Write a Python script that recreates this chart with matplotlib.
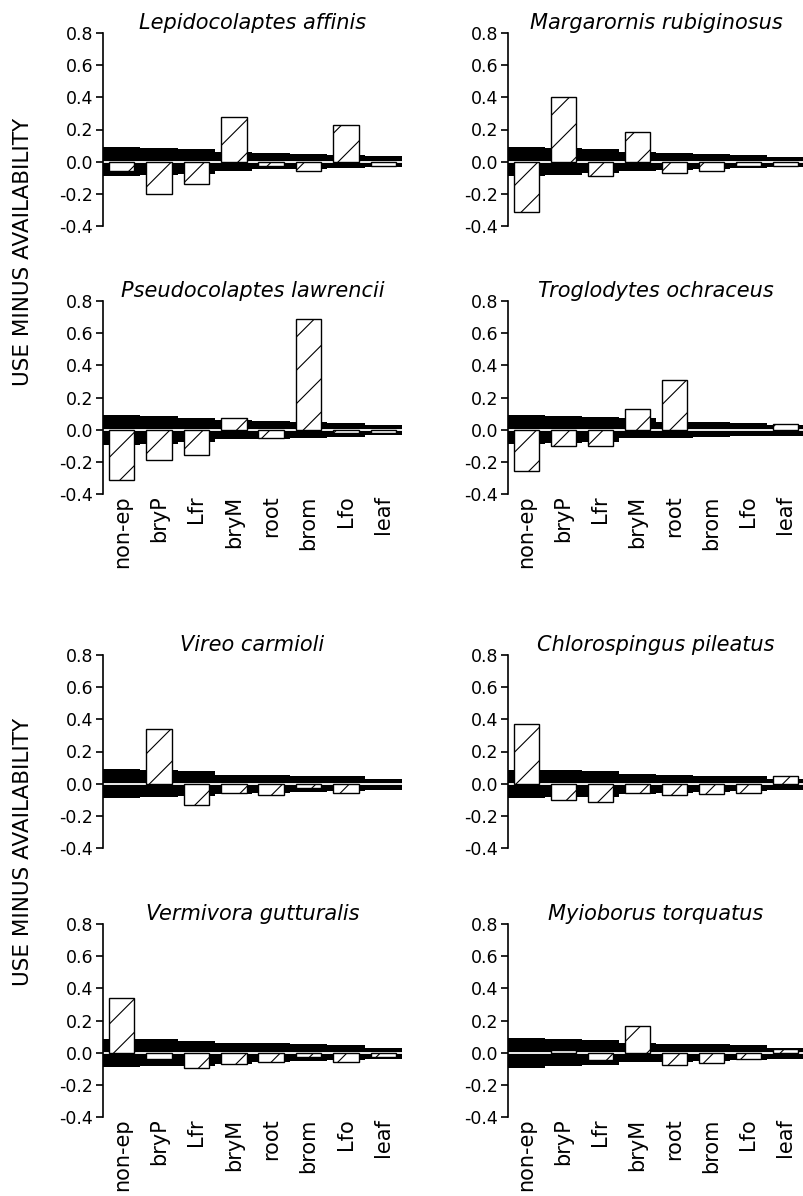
#!/usr/bin/env python3
import matplotlib

matplotlib.use("Agg")
import matplotlib.pyplot as plt
import numpy as np

categories = ["non-ep", "bryP", "Lfr", "bryM", "root", "brom", "Lfo", "leaf"]
yticks = [-0.4, -0.2, 0.0, 0.2, 0.4, 0.6, 0.8]

# use minus availability (hatched bars) and the black upper / lower bands
lepi_use = [-0.06, -0.20, -0.14, 0.28, -0.025, -0.06, 0.23, -0.025]
lepi_hi = [0.090, 0.083, 0.077, 0.060, 0.052, 0.046, 0.040, 0.033]
lepi_lo = [-0.090, -0.083, -0.075, -0.058, -0.048, -0.046, -0.040, -0.033]

marg_use = [-0.31, 0.40, -0.09, 0.185, -0.07, -0.06, -0.03, -0.025]
marg_hi = [0.094, 0.085, 0.077, 0.060, 0.052, 0.048, 0.042, 0.031]
marg_lo = [-0.090, -0.080, -0.073, -0.055, -0.050, -0.045, -0.040, -0.032]

pseu_use = [-0.31, -0.19, -0.16, 0.07, -0.05, 0.69, -0.02, -0.02]
pseu_hi = [0.093, 0.083, 0.072, 0.060, 0.052, 0.045, 0.041, 0.031]
pseu_lo = [-0.093, -0.089, -0.079, -0.058, -0.055, -0.052, -0.048, -0.035]

trog_use = [-0.26, -0.10, -0.10, 0.13, 0.31, 0.0, 0.0, 0.035]
trog_hi = [0.093, 0.082, 0.078, 0.070, 0.050, 0.045, 0.041, 0.031]
trog_lo = [-0.089, -0.082, -0.078, -0.052, -0.050, -0.045, -0.041, -0.037]

vire_use = [0.0, 0.34, -0.135, -0.055, -0.07, -0.03, -0.055, 0.0]
vire_hi = [0.093, 0.085, 0.076, 0.056, 0.052, 0.050, 0.045, 0.031]
vire_lo = [-0.089, -0.082, -0.075, -0.062, -0.055, -0.050, -0.045, -0.037]

chlo_use = [0.37, -0.10, -0.113, -0.055, -0.072, -0.066, -0.055, 0.047]
chlo_hi = [0.088, 0.082, 0.076, 0.062, 0.051, 0.047, 0.045, 0.031]
chlo_lo = [-0.092, -0.085, -0.080, -0.062, -0.055, -0.050, -0.045, -0.040]

verm_use = [0.34, -0.04, -0.093, -0.073, -0.058, -0.03, -0.058, -0.025]
verm_hi = [0.087, 0.082, 0.075, 0.062, 0.058, 0.052, 0.048, 0.031]
verm_lo = [-0.089, -0.083, -0.080, -0.070, -0.058, -0.052, -0.048, -0.037]

myio_use = [0.0, 0.014, -0.047, 0.163, -0.074, -0.064, -0.037, 0.025]
myio_hi = [0.091, 0.082, 0.076, 0.062, 0.056, 0.052, 0.045, 0.031]
myio_lo = [-0.093, -0.085, -0.078, -0.058, -0.055, -0.050, -0.045, -0.037]

species = [
    "Lepidocolaptes affinis", "Margarornis rubiginosus",
    "Pseudocolaptes lawrencii", "Troglodytes ochraceus",
    "Vireo carmioli", "Chlorospingus pileatus",
    "Vermivora gutturalis", "Myioborus torquatus",
]
uses = [lepi_use, marg_use, pseu_use, trog_use, vire_use, chlo_use, verm_use, myio_use]
his = [lepi_hi, marg_hi, pseu_hi, trog_hi, vire_hi, chlo_hi, verm_hi, myio_hi]
los = [lepi_lo, marg_lo, pseu_lo, trog_lo, vire_lo, chlo_lo, verm_lo, myio_lo]

plt.rcParams["font.family"] = ["DejaVu Sans"]
plt.rcParams["hatch.linewidth"] = 0.8

W, H = 804, 1196
fig = plt.figure(figsize=(W / 100, H / 100), dpi=100)

col_left = [(103, 299), (508, 296)]
row_top = [33, 301, 655, 924]
row_h = 193


def draw_panel(ax, title, use, hi, lo, show_x):
    x = np.arange(len(categories))
    use = np.asarray(use)
    ax.bar(x, hi, width=1.0, color="black", linewidth=0)
    ax.bar(x, lo, width=1.0, color="black", linewidth=0)
    ax.axhline(0, color="white", lw=1.3, zorder=2)
    m = use != 0
    ax.bar(x[m], use[m], width=0.68, facecolor="white", edgecolor="black",
           hatch="/", linewidth=1.0, zorder=3)
    ax.set_xlim(-0.5, len(categories) - 0.5)
    ax.set_ylim(-0.4, 0.8)
    ax.set_yticks(yticks)
    ax.set_yticklabels([f"{v:.1f}" for v in yticks], fontsize=12.5)
    for s in ("top", "right", "bottom"):
        ax.spines[s].set_visible(False)
    ax.spines["left"].set_linewidth(1.2)
    ax.tick_params(axis="y", length=5, width=1.2, pad=2)
    ax.set_xticks(x)
    if show_x:
        ax.set_xticklabels(categories, rotation=90, fontsize=15)
        ax.tick_params(axis="x", length=0, pad=1)
    else:
        ax.set_xticklabels([])
        ax.tick_params(axis="x", length=0)
    ax.set_title(title, fontsize=15, style="italic", pad=3)


for i, name in enumerate(species):
    r, c = divmod(i, 2)
    x0, w = col_left[c]
    top = row_top[r]
    ax = fig.add_axes([x0 / W, 1 - (top + row_h) / H, w / W, row_h / H])
    draw_panel(ax, name, uses[i], his[i], los[i], show_x=(r % 2 == 1))

for yc in (252, 852):
    fig.text(23 / W, 1 - yc / H, "USE MINUS AVAILABILITY", rotation=90,
             ha="center", va="center", fontsize=15.5)

fig.savefig("out.png", dpi=100)
